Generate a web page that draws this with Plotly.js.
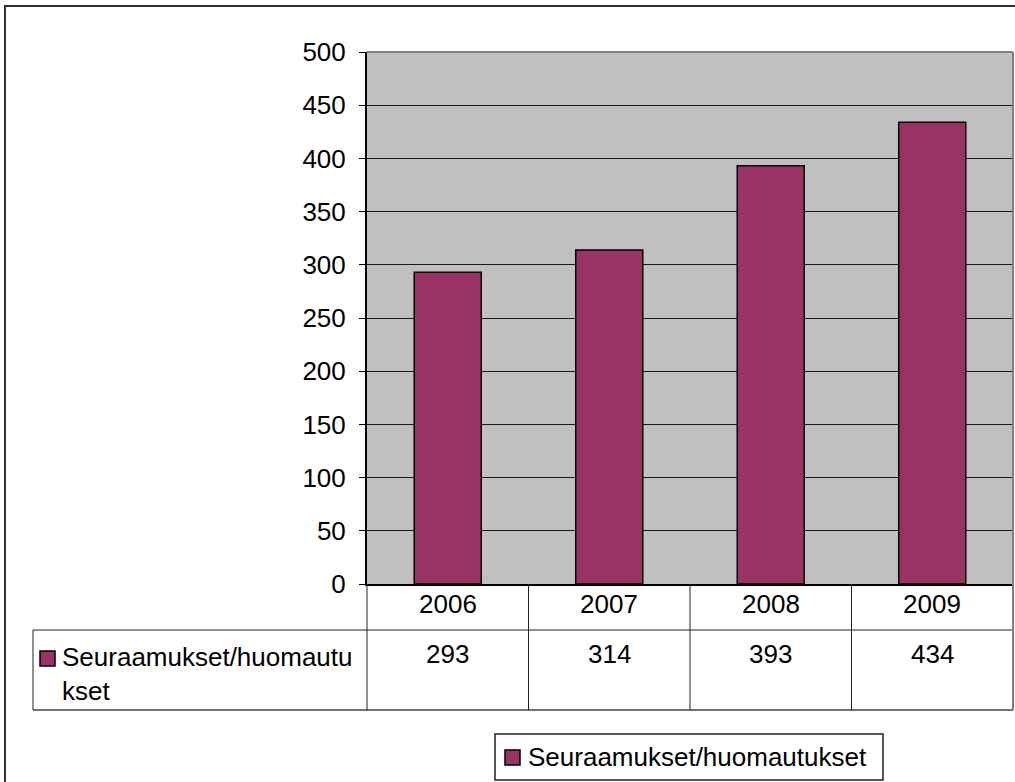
<!DOCTYPE html>
<html>
<head>
<meta charset="utf-8">
<script src="https://cdn.plot.ly/plotly-3.0.1.min.js"></script>
<style>html,body{margin:0;padding:0;background:#fff;}#chart{width:1015px;height:782px;}</style>
</head>
<body>
<div id="chart"></div>
<script>
// ---- data ----
const categories = ["2006", "2007", "2008", "2009"];
const seriesName = "Seuraamukset/huomautukset";
const seriesValues = [293, 314, 393, 434];
const yTickValues = [0, 50, 100, 150, 200, 250, 300, 350, 400, 450, 500];

// ---- layout helpers (pixel -> paper) ----
const W = 1015, H = 782;
const px = x => x / W;
const py = y => 1 - y / H;
const FONT = "Liberation Sans, Arial, Helvetica, sans-serif";
const FS = 26;
const barColor = "#993366";

const plotL = 367, plotR = 1013, plotT = 52, plotB = 584;
const rowMid = 630, tableB = 710, tableL = 33;

const shapes = [];
const annotations = [];

// outer chart border
shapes.push({type: "rect", xref: "paper", yref: "paper", x0: px(5), x1: px(1030), y0: py(6), y1: py(800),
  line: {color: "#333", width: 2}, fillcolor: "rgba(0,0,0,0)", layer: "below"});
// plot area top/right border (gray)
shapes.push({type: "line", xref: "paper", yref: "paper", x0: px(plotL), x1: px(plotR), y0: py(plotT), y1: py(plotT), line: {color: "#808080", width: 2}});
shapes.push({type: "line", xref: "paper", yref: "paper", x0: px(plotR), x1: px(plotR), y0: py(plotT), y1: py(plotB), line: {color: "#808080", width: 2}});

// data table lines
const colW = (plotR - plotL) / categories.length;
shapes.push({type: "line", xref: "paper", yref: "paper", x0: px(tableL), x1: px(plotR), y0: py(rowMid), y1: py(rowMid), line: {color: "#222", width: 1}});
shapes.push({type: "line", xref: "paper", yref: "paper", x0: px(tableL), x1: px(plotR), y0: py(tableB), y1: py(tableB), line: {color: "#444", width: 1.5}});
shapes.push({type: "line", xref: "paper", yref: "paper", x0: px(tableL), x1: px(tableL), y0: py(rowMid), y1: py(tableB), line: {color: "#222", width: 1}});
for (let i = 0; i <= categories.length; i++) {
  const x = plotL + i * colW;
  shapes.push({type: "line", xref: "paper", yref: "paper", x0: px(x), x1: px(x), y0: py(plotB), y1: py(tableB),
    line: {color: i === categories.length ? "#808080" : "#222", width: i === categories.length ? 2 : 1}});
}
categories.forEach((c, i) => {
  const cx = plotL + (i + 0.5) * colW;
  annotations.push({xref: "paper", yref: "paper", x: px(cx), y: py(604), text: c, showarrow: false,
    xanchor: "center", yanchor: "middle", font: {family: FONT, size: FS, color: "#000"}});
  annotations.push({xref: "paper", yref: "paper", x: px(cx), y: py(654), text: String(seriesValues[i]), showarrow: false,
    xanchor: "center", yanchor: "middle", font: {family: FONT, size: FS, color: "#000"}});
});
// row label with key
shapes.push({type: "rect", xref: "paper", yref: "paper", x0: px(40), x1: px(55), y0: py(651), y1: py(666),
  fillcolor: barColor, line: {color: "#000", width: 1.5}});
annotations.push({xref: "paper", yref: "paper", x: px(60), y: py(640), showarrow: false, align: "left",
  xanchor: "left", yanchor: "top", text: seriesName.slice(0, 21) + "<br>" + seriesName.slice(21),
  font: {family: FONT, size: FS, color: "#000"}});

// legend
shapes.push({type: "rect", xref: "paper", yref: "paper", x0: px(495), x1: px(883), y0: py(734), y1: py(780),
  fillcolor: "#fff", line: {color: "#222", width: 1.5}});
shapes.push({type: "rect", xref: "paper", yref: "paper", x0: px(505), x1: px(520), y0: py(750), y1: py(765),
  fillcolor: barColor, line: {color: "#000", width: 1.5}});
annotations.push({xref: "paper", yref: "paper", x: px(526), y: py(757), text: seriesName, showarrow: false,
  xanchor: "left", yanchor: "middle", font: {family: FONT, size: FS, color: "#000"}});

const trace = {
  type: "bar",
  x: categories,
  y: seriesValues,
  name: seriesName,
  marker: {color: barColor, line: {color: "#000", width: 1.5}},
  hoverinfo: "x+y"
};

const layout = {
  width: W, height: H,
  margin: {l: 0, r: 0, t: 0, b: 0, pad: 0},
  paper_bgcolor: "#fff",
  plot_bgcolor: "#C0C0C0",
  showlegend: false,
  bargap: 0.585,
  font: {family: FONT, size: FS, color: "#000"},
  xaxis: {
    domain: [px(plotL), px(plotR)],
    type: "category",
    showticklabels: false,
    ticks: "",
    showgrid: false,
    showline: true, linecolor: "#000", linewidth: 2,
    fixedrange: true
  },
  yaxis: {
    domain: [py(plotB), py(plotT)],
    range: [0, 500],
    tickvals: yTickValues,
    ticktext: yTickValues.map(String),
    ticks: "outside", ticklen: 6, tickcolor: "#000", tickwidth: 1,
    ticklabelstandoff: 8,
    showgrid: true, gridcolor: "#1a1a1a", gridwidth: 1,
    zeroline: false,
    showline: true, linecolor: "#000", linewidth: 2,
    tickfont: {family: FONT, size: FS, color: "#000"},
    fixedrange: true
  },
  shapes: shapes,
  annotations: annotations
};

Plotly.newPlot("chart", [trace], layout, {displayModeBar: false, staticPlot: true});
</script>
</body>
</html>
